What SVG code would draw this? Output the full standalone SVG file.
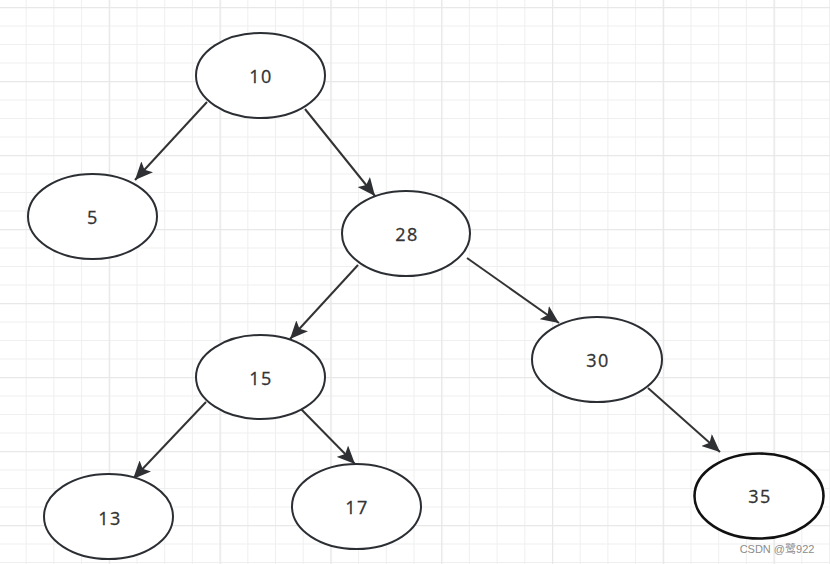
<svg xmlns="http://www.w3.org/2000/svg" width="830" height="564" viewBox="0 0 830 564">
<defs>
<pattern id="minor" x="-2" y="7" width="27.7" height="18.5" patternUnits="userSpaceOnUse">
<path d="M0 0V18.5M0 0H27.7" fill="none" stroke="#efefef" stroke-width="2"/>
</pattern>
<pattern id="major" x="-2" y="7" width="110.8" height="74" patternUnits="userSpaceOnUse">
<path d="M0 0V74M0 0H110.8" fill="none" stroke="#e8e8e8" stroke-width="2.5"/>
</pattern>
<marker id="arr" markerUnits="userSpaceOnUse" markerWidth="20" markerHeight="16" refX="18" refY="8" orient="auto">
<path d="M0 0L18 8L0 16L4 8Z" fill="#2e3033"/>
</marker>
</defs>
<style>
.n ellipse{fill:#fff;stroke:#2b2e33;stroke-width:2}
.n text{font-family:"Open Sans","Liberation Sans",sans-serif;font-size:18px;fill:#333;text-anchor:middle;dominant-baseline:central;letter-spacing:1.5px;stroke:#333;stroke-width:0.3}
.c line{stroke:#333;stroke-width:2;marker-end:url(#arr)}
</style>
<rect width="830" height="564" fill="#fff"/>
<rect width="830" height="564" fill="url(#minor)"/>
<rect width="830" height="564" fill="url(#major)"/>
<g id="connectors" class="c">
<line x1="207" y1="102" x2="135" y2="180"/>
<line x1="305" y1="109" x2="375" y2="196"/>
<line x1="358" y1="265" x2="290" y2="339"/>
<line x1="467" y1="258" x2="559" y2="323"/>
<line x1="206" y1="402" x2="133" y2="479"/>
<line x1="300" y1="408" x2="355" y2="464"/>
<line x1="648" y1="388" x2="720" y2="452"/>
</g>
<g id="n10" class="n"><ellipse cx="260.5" cy="75.5" rx="64.5" ry="42.5"/><text x="261" y="76">10</text></g>
<g id="n5" class="n"><ellipse cx="92.5" cy="216.5" rx="64.5" ry="42.5"/><text x="93" y="217">5</text></g>
<g id="n28" class="n"><ellipse cx="406" cy="233.5" rx="64" ry="42.5"/><text x="407" y="234">28</text></g>
<g id="n15" class="n"><ellipse cx="260.5" cy="377" rx="64.5" ry="42"/><text x="261" y="378">15</text></g>
<g id="n30" class="n"><ellipse cx="597" cy="359.5" rx="65" ry="42.5"/><text x="598" y="360">30</text></g>
<g id="n13" class="n"><ellipse cx="108.5" cy="516.5" rx="64.5" ry="42.5"/><text x="110" y="518">13</text></g>
<g id="n17" class="n"><ellipse cx="356.5" cy="506.5" rx="64.5" ry="42.5"/><text x="357" y="507">17</text></g>
<g id="n35" class="n"><ellipse cx="759" cy="496" rx="64.5" ry="42.5" style="stroke:#111;stroke-width:2.6"/><text x="760" y="496">35</text></g>
<text x="777" y="553" font-family="'Liberation Sans','Noto Sans CJK SC',sans-serif" font-size="11" fill="#8c8c8c" text-anchor="middle">CSDN @鹭922</text>
</svg>
